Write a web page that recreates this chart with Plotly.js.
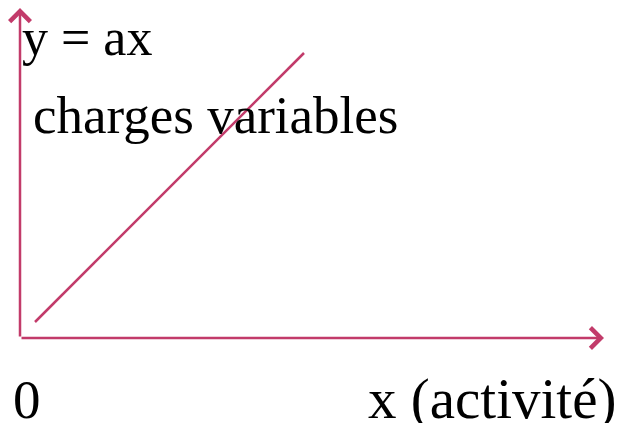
<!DOCTYPE html>
<html>
<head>
<meta charset="utf-8">
<script src="https://cdn.plot.ly/plotly-3.0.1.min.js"></script>
<style>
  html, body { margin: 0; padding: 0; background: #ffffff; overflow: hidden; }
  #chart { width: 625px; height: 429px; }
</style>
</head>
<body>
<div id="chart"></div>
<script>
// Variable costs: y = a·x, drawn as a straight line from near the origin
const activity = [15, 284];
const variableCosts = [16, 285];

// Axis extents (arrows drawn from the origin)
const xAxisEnd = 584;
const yAxisEnd = 330;

// Text labels
const equationLabel = 'y = ax';
const seriesLabel = 'charges variables';
const originLabel = '0';
const xAxisLabel = 'x (activité)';

const accent = '#C23B6A';
const serif = 'Liberation Serif, Times New Roman, serif';

const traces = [{
  type: 'scatter',
  mode: 'lines',
  x: activity,
  y: variableCosts,
  line: { color: accent, width: 2.5 },
  hoverinfo: 'skip',
  showlegend: false
}];

function axisArrow(xEnd, yEnd) {
  return {
    x: xEnd, y: yEnd, xref: 'x', yref: 'y',
    ax: 0, ay: 0, axref: 'x', ayref: 'y',
    text: '', showarrow: true,
    arrowhead: 4, arrowsize: 1.6, arrowwidth: 2.5,
    arrowcolor: accent
  };
}

// Labels are placed in paper units so they can sit outside the plotting area
function label(text, x, y, size, boxHeight) {
  const a = {
    text: text, x: x, y: y, xref: 'paper', yref: 'paper',
    xanchor: 'left', yanchor: 'middle', showarrow: false,
    font: { family: serif, size: size, color: '#000000' }
  };
  if (boxHeight) a.height = boxHeight;
  return a;
}

const layout = {
  width: 625,
  height: 429,
  margin: { l: 20, r: 21, t: 8, b: 91, pad: 0 },
  paper_bgcolor: '#ffffff',
  plot_bgcolor: '#ffffff',
  xaxis: { range: [0, xAxisEnd], visible: false, fixedrange: true },
  yaxis: { range: [0, yAxisEnd], visible: false, fixedrange: true },
  showlegend: false,
  annotations: [
    axisArrow(xAxisEnd, 0),
    axisArrow(0, yAxisEnd),
    label(equationLabel, 0 / 584, 301 / 330, 52),
    label(seriesLabel, 11 / 584, 223 / 330, 53),
    label(originLabel, -9 / 584, -61 / 330, 55, 48),
    label(xAxisLabel, 346 / 584, -61 / 330, 57, 48)
  ]
};

Plotly.newPlot('chart', traces, layout, { staticPlot: true, displayModeBar: false });
</script>
</body>
</html>
